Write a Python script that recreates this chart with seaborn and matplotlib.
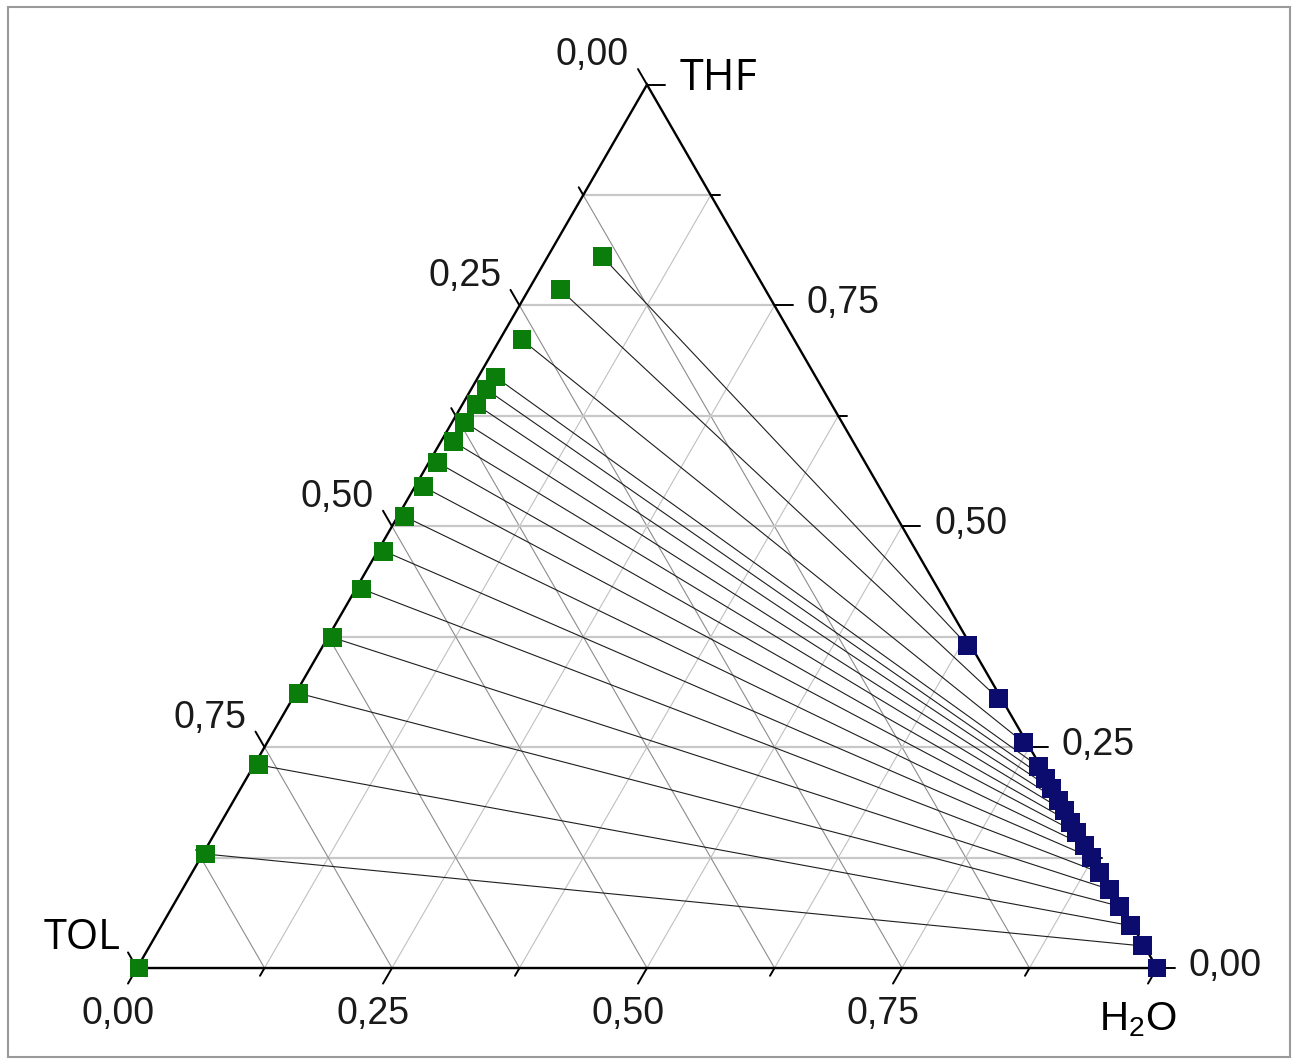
import numpy as np
import pandas as pd
import matplotlib
matplotlib.use("Agg")
import matplotlib.pyplot as plt
import seaborn as sns
from matplotlib.patches import Rectangle

# ---------------- data (mass fractions) ----------------
# Organic (toluene-rich) phase : THF and H2O fractions (TOL = remainder)
org_thf = [0.805, 0.768, 0.711, 0.669, 0.655, 0.638, 0.618, 0.596, 0.572,
           0.545, 0.511, 0.472, 0.429, 0.374, 0.311, 0.230, 0.129, 0.000]
org_h2o = [0.054, 0.031, 0.022, 0.017, 0.015, 0.0135, 0.012, 0.012, 0.009,
           0.008, 0.007, 0.006, 0.006, 0.005, 0.003, 0.004, 0.003, 0.002]
# Aqueous phase : THF and TOL fractions (H2O = remainder)
aq_thf = [0.365, 0.305, 0.255, 0.228, 0.215, 0.203, 0.190, 0.178, 0.165,
          0.153, 0.139, 0.125, 0.108, 0.089, 0.070, 0.048, 0.025, 0.000]
aq_tol = [0.003, 0.003, 0.003, 0.002, 0.002, 0.002, 0.002, 0.002, 0.002,
          0.002, 0.002, 0.002, 0.002, 0.002, 0.002, 0.002, 0.002, 0.000]

tick_values = [0.0, 0.25, 0.5, 0.75]
tick_labels = ["0,00", "0,25", "0,50", "0,75"]
vertex_labels = ["TOL", "THF", r"$\mathregular{H_2O}$"]

# ---------------- helpers ----------------
S3 = np.sqrt(3) / 2


def to_xy(h2o, thf):
    h2o = np.asarray(h2o, float)
    thf = np.asarray(thf, float)
    return h2o + thf / 2, thf * S3


W, H = 1297, 1064
PX = 1 / 1020.0  # one pixel in data units

sns.set_style("white")
plt.rcParams["font.family"] = ["Liberation Sans", "DejaVu Sans"]
plt.rcParams["mathtext.fontset"] = "custom"
plt.rcParams["mathtext.rm"] = "Liberation Sans"

fig = plt.figure(figsize=(W / 100, H / 100), dpi=100)
ax = fig.add_axes([0, 0, 1, 1])
ax.set_xlim(-137 * PX, (W - 137) * PX)
ax.set_ylim(-96 * PX, (H - 96) * PX)
ax.axis("off")

# ---------------- grid ----------------
steps = np.arange(1, 8) * 0.125
for v in steps:
    # constant THF (horizontal)
    x, y = to_xy([0, 1 - v], [v, v])
    ax.plot(x, y, color="#c8c8c8", lw=1.6, zorder=1)
    # constant TOL (parallel to right edge)
    x, y = to_xy([0, 1 - v], [1 - v, 0])
    ax.plot(x, y, color="#8c8c8c", lw=0.8, zorder=1)
    # constant H2O (parallel to left edge)
    x, y = to_xy([v, v], [0, 1 - v])
    ax.plot(x, y, color="#c0c0c0", lw=0.8, zorder=1)

# ---------------- triangle ----------------
x, y = to_xy([0, 1, 0, 0], [0, 0, 1, 0])
ax.plot(x, y, color="black", lw=1.7, zorder=6, solid_joinstyle="miter")

# ---------------- ticks ----------------
all_ticks = np.arange(0, 9) * 0.125
for i, v in enumerate(all_ticks):
    L = (18 if i % 2 == 0 else 9) * PX
    # bottom axis : H2O fraction
    bx, by = to_xy(v, 0)
    ax.plot([bx, bx - 0.5 * L], [by, by - S3 * L], color="black", lw=1.4, zorder=6)
    # left axis : TOL fraction (0 at THF)
    lx, ly = to_xy(0, 1 - v)
    ax.plot([lx, lx - 0.5 * L], [ly, ly + S3 * L], color="black", lw=1.4, zorder=6)
    # right axis : THF fraction (0 at H2O)
    rx, ry = to_xy(1 - v, v)
    ax.plot([rx, rx + L], [ry, ry], color="black", lw=1.4, zorder=6)

FS = 27
for v, lab in zip(tick_values, tick_labels):
    L = 18 * PX
    bx, by = to_xy(v, 0)
    ax.text(bx - 0.5 * L - 10 * PX, by - S3 * L - 30 * PX, lab, ha="center",
            va="center", fontsize=FS, color="#1a1a1a")
    lx, ly = to_xy(0, 1 - v)
    ax.text(lx - 0.5 * L - 9 * PX, ly + S3 * L + 14 * PX, lab, ha="right",
            va="center", fontsize=FS, color="#1a1a1a")
    rx, ry = to_xy(1 - v, v)
    ax.text(rx + L + 14 * PX, ry + 2 * PX, lab, ha="left", va="center",
            fontsize=FS, color="#1a1a1a")

# vertex labels
tx, ty = to_xy(0, 0)
ax.text(tx - 17 * PX, ty + 30 * PX, vertex_labels[0], ha="right", va="center",
        fontsize=30, family=["Open Sans", "DejaVu Sans"], color="black")
tx, ty = to_xy(0, 1)
ax.text(tx + 33 * PX, ty + 6 * PX, vertex_labels[1], ha="left", va="center",
        fontsize=31, family=["Open Sans", "DejaVu Sans"], color="black")
tx, ty = to_xy(1, 0)
ax.text(tx - 19 * PX, ty - 52 * PX, vertex_labels[2], ha="center", va="center",
        fontsize=29, color="black")

# ---------------- tie lines ----------------
ox, oy = to_xy(org_h2o, org_thf)
aq_h2o = 1 - np.asarray(aq_thf) - np.asarray(aq_tol)
axx, ayy = to_xy(aq_h2o, aq_thf)
n = len(org_thf)
ties = pd.DataFrame({
    "x": np.concatenate([ox, axx]),
    "y": np.concatenate([oy, ayy]),
    "pair": list(range(n)) * 2,
    "phase": ["org"] * n + ["aq"] * n,
})
sns.lineplot(data=ties, x="x", y="y", units="pair", estimator=None, sort=False,
             color="#1e1e1e", lw=0.8, ax=ax, legend=False, zorder=3)

sns.scatterplot(data=ties, x="x", y="y", hue="phase",
                palette={"org": "#0b7d0b", "aq": "#0c0c6e"}, marker="s",
                s=185, linewidth=0, legend=False, ax=ax, zorder=7)
ax.set_xlabel("")
ax.set_ylabel("")
ax.axis("off")

# outer frame
fig.patches.append(Rectangle((8 / W, 1 - 1057 / H), (1290 - 8) / W, (1057 - 7) / H,
                             transform=fig.transFigure, fill=False,
                             edgecolor="#9a9a9a", lw=1.5))

fig.savefig("out.png", dpi=100)
